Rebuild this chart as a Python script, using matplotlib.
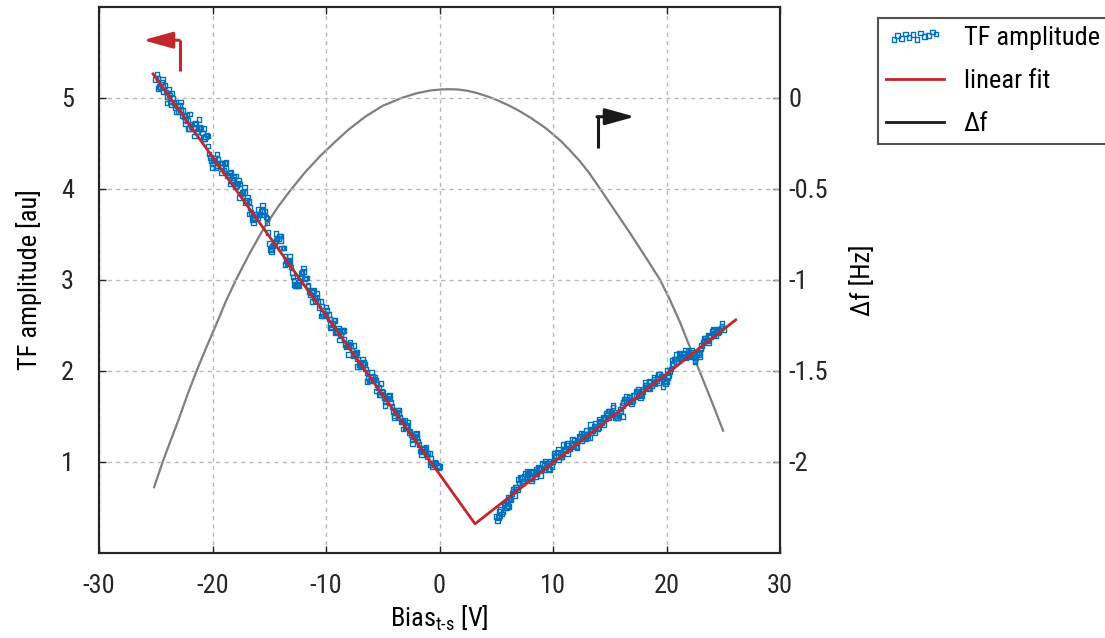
import numpy as np
import matplotlib
matplotlib.use("Agg")
import matplotlib.pyplot as plt
from matplotlib.lines import Line2D
from matplotlib import font_manager

_names = {f.name for f in font_manager.fontManager.ttflist}
_narrow = [n for n in ['Roboto Condensed', 'Liberation Sans Narrow', 'Arial Narrow',
                       'Open Sans Condensed', 'Noto Sans Condensed'] if n in _names]
if _narrow:
    MAIN_FONT = _narrow[0]
    FS_TICK, FS_LAB, FS_LEG = 19, 19, 19
else:
    MAIN_FONT = 'Liberation Sans'
    FS_TICK, FS_LAB, FS_LEG = 18, 17.5, 17

plt.rcParams['font.family'] = [MAIN_FONT, 'DejaVu Sans']
plt.rcParams['mathtext.fontset'] = 'custom'
plt.rcParams['mathtext.rm'] = MAIN_FONT
plt.rcParams['mathtext.it'] = MAIN_FONT
plt.rcParams['axes.unicode_minus'] = False

# ---------------- data ----------------
# TF amplitude, negative-bias branch, pass 1 (bias -25 V .. 0 V, 126 samples)
tf_l1_start, tf_l1_stop, tf_l1_n = -25.0, 0.0, 126
tf_l1_y = [
    5.20, 5.21, 5.11, 5.12, 5.13, 5.01, 5.03, 4.92, 4.94, 4.95,
    4.85, 4.87, 4.86, 4.76, 4.75, 4.66, 4.71, 4.71, 4.62, 4.66,
    4.66, 4.66, 4.57, 4.47, 4.34, 4.27, 4.33, 4.25, 4.28, 4.28,
    4.20, 4.22, 4.15, 4.18, 4.10, 4.02, 4.06, 4.05, 3.96, 3.96,
    3.87, 3.86, 3.74, 3.67, 3.70, 3.68, 3.72, 3.76, 3.75, 3.63,
    3.40, 3.34, 3.38, 3.43, 3.45, 3.43, 3.35, 3.26, 3.18, 3.20,
    3.08, 2.99, 2.94, 2.97, 3.07, 3.09, 3.02, 2.93, 2.84, 2.87,
    2.80, 2.81, 2.69, 2.71, 2.60, 2.62, 2.62, 2.51, 2.52, 2.42,
    2.43, 2.44, 2.43, 2.35, 2.26, 2.29, 2.28, 2.17, 2.19, 2.13,
    2.05, 2.07, 2.07, 1.98, 1.89, 1.89, 1.91, 1.90, 1.82, 1.74,
    1.76, 1.66, 1.70, 1.69, 1.61, 1.51, 1.55, 1.53, 1.44, 1.45,
    1.38, 1.40, 1.34, 1.24, 1.28, 1.27, 1.19, 1.11, 1.15, 1.10,
    1.09, 1.04, 0.95, 0.98, 0.96, 0.95,
]
# negative-bias branch, pass 2 (bias -24.9 V .. -0.1 V, 125 samples)
tf_l2_start, tf_l2_stop, tf_l2_n = -24.9, -0.1, 125
tf_l2_y = [
    5.26, 5.12, 5.17, 5.07, 5.06, 5.09, 4.95, 4.99, 4.89, 4.91,
    4.92, 4.80, 4.79, 4.80, 4.66, 4.68, 4.66, 4.72, 4.63, 4.67,
    4.61, 4.55, 4.59, 4.38, 4.31, 4.31, 4.23, 4.32, 4.24, 4.28,
    4.28, 4.14, 4.17, 4.09, 4.12, 4.03, 4.09, 3.94, 3.96, 3.85,
    3.90, 3.79, 3.66, 3.68, 3.72, 3.71, 3.75, 3.71, 3.69, 3.52,
    3.33, 3.37, 3.41, 3.45, 3.48, 3.35, 3.35, 3.21, 3.19, 3.14,
    3.03, 2.94, 2.95, 3.03, 3.08, 3.01, 3.02, 2.87, 2.86, 2.88,
    2.77, 2.76, 2.76, 2.63, 2.62, 2.66, 2.57, 2.48, 2.55, 2.43,
    2.47, 2.40, 2.44, 2.29, 2.28, 2.31, 2.23, 2.18, 2.20, 2.07,
    2.06, 2.09, 2.02, 1.92, 1.90, 1.94, 1.93, 1.85, 1.74, 1.77,
    1.71, 1.69, 1.72, 1.65, 1.55, 1.54, 1.57, 1.49, 1.44, 1.46,
    1.39, 1.32, 1.30, 1.28, 1.30, 1.23, 1.12, 1.15, 1.14, 1.06,
    1.09, 0.99, 0.98, 0.99, 0.94,
]
# negative-bias branch, pass 3 (bias -24.8 V .. -0.4 V, 62 samples)
tf_l3_start, tf_l3_stop, tf_l3_n = -24.8, -0.4, 62
tf_l3_y = [
    5.10, 5.20, 4.94, 5.05, 4.84, 4.95, 4.71, 4.82, 4.58, 4.76,
    4.55, 4.58, 4.23, 4.38, 4.17, 4.29, 4.05, 4.14, 3.90, 4.02,
    3.72, 3.63, 3.77, 3.82, 3.67, 3.31, 3.51, 3.48, 3.17, 3.26,
    2.95, 2.93, 3.13, 2.94, 2.76, 2.85, 2.60, 2.70, 2.47, 2.55,
    2.34, 2.44, 2.18, 2.28, 2.05, 2.13, 1.88, 1.98, 1.78, 1.86,
    1.62, 1.73, 1.49, 1.57, 1.36, 1.44, 1.20, 1.31, 1.08, 1.16,
    0.97, 1.00,
]
# positive-bias branch, pass 1 (bias 5 V .. 25 V, 101 samples)
tf_r1_start, tf_r1_stop, tf_r1_n = 5.0, 25.0, 101
tf_r1_y = [
    0.40, 0.39, 0.48, 0.45, 0.54, 0.52, 0.60, 0.65, 0.63, 0.72,
    0.77, 0.82, 0.79, 0.87, 0.86, 0.83, 0.90, 0.88, 0.87, 0.93,
    0.92, 0.98, 0.95, 0.93, 1.01, 1.00, 1.06, 1.11, 1.08, 1.06,
    1.13, 1.18, 1.15, 1.20, 1.18, 1.17, 1.23, 1.28, 1.26, 1.30,
    1.29, 1.27, 1.34, 1.39, 1.39, 1.38, 1.44, 1.49, 1.47, 1.51,
    1.56, 1.55, 1.54, 1.51, 1.51, 1.56, 1.65, 1.69, 1.68, 1.68,
    1.67, 1.73, 1.77, 1.75, 1.73, 1.80, 1.84, 1.82, 1.87, 1.87,
    1.86, 1.92, 1.96, 1.94, 1.89, 1.88, 1.95, 2.02, 2.08, 2.13,
    2.13, 2.18, 2.16, 2.15, 2.19, 2.18, 2.22, 2.17, 2.14, 2.18,
    2.24, 2.31, 2.36, 2.33, 2.38, 2.43, 2.40, 2.44, 2.43, 2.47,
    2.45,
]
# positive-bias branch, pass 2 (bias 5.1 V .. 24.9 V, 100 samples)
tf_r2_start, tf_r2_stop, tf_r2_n = 5.1, 24.9, 100
tf_r2_y = [
    0.36, 0.46, 0.43, 0.52, 0.50, 0.61, 0.58, 0.68, 0.72, 0.70,
    0.83, 0.77, 0.84, 0.83, 0.89, 0.82, 0.89, 0.84, 0.94, 0.92,
    0.98, 0.91, 0.99, 0.99, 0.95, 1.07, 1.06, 1.14, 1.06, 1.14,
    1.12, 1.20, 1.14, 1.20, 1.24, 1.21, 1.28, 1.23, 1.30, 1.35,
    1.27, 1.35, 1.34, 1.42, 1.36, 1.45, 1.43, 1.48, 1.53, 1.49,
    1.55, 1.60, 1.49, 1.49, 1.58, 1.62, 1.69, 1.66, 1.71, 1.66,
    1.73, 1.72, 1.80, 1.74, 1.77, 1.84, 1.82, 1.88, 1.84, 1.91,
    1.89, 1.96, 1.94, 1.91, 1.86, 1.93, 1.99, 2.06, 2.13, 2.10,
    2.19, 2.14, 2.19, 2.14, 2.21, 2.17, 2.20, 2.11, 2.19, 2.16,
    2.28, 2.34, 2.34, 2.39, 2.37, 2.45, 2.39, 2.46, 2.45, 2.49,
]
# positive-bias branch, pass 3 (bias 5.3 V .. 24.9 V, 50 samples)
tf_r3_start, tf_r3_stop, tf_r3_n = 5.3, 24.9, 50
tf_r3_y = [
    0.41, 0.55, 0.51, 0.70, 0.81, 0.77, 0.90, 0.79, 0.92, 0.85,
    1.01, 0.92, 1.10, 1.02, 1.19, 1.09, 1.25, 1.16, 1.31, 1.25,
    1.41, 1.32, 1.47, 1.41, 1.56, 1.62, 1.48, 1.50, 1.72, 1.64,
    1.78, 1.70, 1.87, 1.80, 1.93, 1.87, 1.83, 2.01, 2.12, 2.18,
    2.16, 2.23, 2.15, 2.10, 2.20, 2.36, 2.31, 2.46, 2.42, 2.52,
]
# piecewise linear fit (V-shape)
fit_x = [-25.24, 3.13, 26.1]
fit_y = [5.26, 0.32, 2.56]
# frequency shift
df_x = [-25.15, -24.39, -23.7, -23.0, -22.2, -21.4, -20.5, -19.7, -18.8, -17.93,
        -16.7, -15.5, -14.2, -13.02, -11.8, -10.5, -9.2, -8.0, -6.5, -5.0,
        -3.33, -2.0, -0.8, 0.2, 0.9, 1.7, 2.5, 3.3, 4.16, 5.0,
        6.0, 7.0, 8.0, 9.3, 10.62, 11.5, 12.38, 13.2, 14.14, 15.5,
        16.8, 18.1, 19.43, 20.3, 21.2, 22.0, 22.9, 23.9, 25.0]
df_y = [-2.14, -2.0, -1.885, -1.77, -1.63, -1.5, -1.365, -1.25, -1.115, -1.0,
        -0.852, -0.72, -0.597, -0.5, -0.407, -0.32, -0.243, -0.175, -0.103, -0.045,
        -0.002, 0.024, 0.039, 0.045, 0.046, 0.044, 0.037, 0.025, 0.008, -0.012,
        -0.04, -0.072, -0.11, -0.165, -0.234, -0.29, -0.35, -0.415, -0.5, -0.625,
        -0.745, -0.87, -1.0, -1.11, -1.235, -1.36, -1.5, -1.655, -1.83]

x_ticks = [-30, -20, -10, 0, 10, 20, 30]
left_ticks = [1, 2, 3, 4, 5]
right_ticks = [-2, -1.5, -1, -0.5, 0]
right_labels = ['-2', '-1.5', '-1', '-0.5', '0']

tf_x = np.concatenate([np.linspace(tf_l1_start, tf_l1_stop, tf_l1_n),
                       np.linspace(tf_l2_start, tf_l2_stop, tf_l2_n),
                       np.linspace(tf_l3_start, tf_l3_stop, tf_l3_n),
                       np.linspace(tf_r1_start, tf_r1_stop, tf_r1_n),
                       np.linspace(tf_r2_start, tf_r2_stop, tf_r2_n),
                       np.linspace(tf_r3_start, tf_r3_stop, tf_r3_n)])
tf_y = np.concatenate([tf_l1_y, tf_l2_y, tf_l3_y, tf_r1_y, tf_r2_y, tf_r3_y])

# ---------------- styles ----------------
BLUE = '#0072BD'
RED = '#C1272D'
GRAY = '#7f7f7f'
SPINE = '#262626'

fig = plt.figure(figsize=(11.05, 6.38), dpi=100)
ax = fig.add_axes([99 / 1105, 1 - 553 / 638, 681 / 1105, 546.5 / 638])
ax2 = ax.twinx()
ax.set_zorder(ax2.get_zorder() + 1)
ax.patch.set_visible(False)

# delta f on right axis
ax2.plot(df_x, df_y, color=GRAY, lw=1.6, solid_capstyle='round',
         solid_joinstyle='round')
ax2.set_ylim(-2.5, 0.5)
ax2.set_yticks(right_ticks)
ax2.set_yticklabels(right_labels)
ax2.set_ylabel('Δf [Hz]', fontsize=FS_LAB, labelpad=16)

# TF amplitude
sc = ax.scatter(tf_x, tf_y, marker='s', s=11, facecolors='none',
                edgecolors=BLUE, linewidths=1.0, zorder=3)
fl, = ax.plot(fit_x, fit_y, color=RED, lw=2.0, zorder=4)

ax.set_xlim(-30, 30)
ax.set_ylim(0, 6)
ax.set_xticks(x_ticks)
ax.set_yticks(left_ticks)
ax.grid(True, color='#b8b8b8', linestyle=(0, (3, 3)), lw=1.0)
ax.set_axisbelow(True)

ax.set_ylabel('TF amplitude [au]', fontsize=FS_LAB, labelpad=14)
ax.set_xlabel('Bias$_{\\mathregular{t\u2010s}}$ [V]', fontsize=FS_LAB, labelpad=4)

for a in (ax, ax2):
    for sp in a.spines.values():
        sp.set_linewidth(1.5)
        sp.set_color(SPINE)
ax.tick_params(axis='x', which='both', direction='in', top=True, bottom=True,
               length=5, width=1, labelsize=FS_TICK, pad=15, colors=SPINE)
ax.tick_params(axis='y', which='both', direction='in', left=True, right=False,
               length=5, width=1, labelsize=FS_TICK, pad=18, colors=SPINE)
ax2.tick_params(axis='y', direction='in', length=5, width=1, labelsize=FS_TICK,
                pad=6, colors=SPINE)

# direction arrows
ax.plot([-22.86, -22.86], [5.29, 5.63], color=RED, lw=2.2, zorder=5,
        solid_capstyle='butt')
ax.annotate('', xy=(-26.12, 5.63), xytext=(-22.95, 5.63),
            arrowprops=dict(arrowstyle='-|>,head_length=0.9,head_width=0.25',
                            color=RED, lw=2.2, shrinkA=0, shrinkB=0,
                            mutation_scale=20), zorder=5)
ax.plot([13.96, 13.96], [4.45, 4.79], color='#1a1a1a', lw=2.2, zorder=5,
        solid_capstyle='butt')
ax.annotate('', xy=(17.22, 4.79), xytext=(13.87, 4.79),
            arrowprops=dict(arrowstyle='-|>,head_length=0.9,head_width=0.25',
                            color='#1a1a1a', lw=2.2, shrinkA=0, shrinkB=0,
                            mutation_scale=20), zorder=5)

# legend
df_proxy = Line2D([], [], color='#1a1a1a', lw=2)
leg = fig.legend([sc, fl, df_proxy], ['TF amplitude', 'linear fit', 'Δf'],
                 loc='upper left', bbox_to_anchor=(878 / 1105, 1 - 18 / 638),
                 borderaxespad=0, fontsize=FS_LEG, frameon=True, fancybox=False,
                 edgecolor=SPINE, handlelength=2.2, handletextpad=0.75,
                 labelspacing=0.72, borderpad=0.3, scatterpoints=12,
                 scatteryoffsets=[0.3, 0.5, 0.35, 0.6, 0.4, 0.55, 0.3, 0.65, 0.45, 0.5, 0.7, 0.6])
leg.get_frame().set_linewidth(1.5)

fig.savefig('out.png', dpi=100)
